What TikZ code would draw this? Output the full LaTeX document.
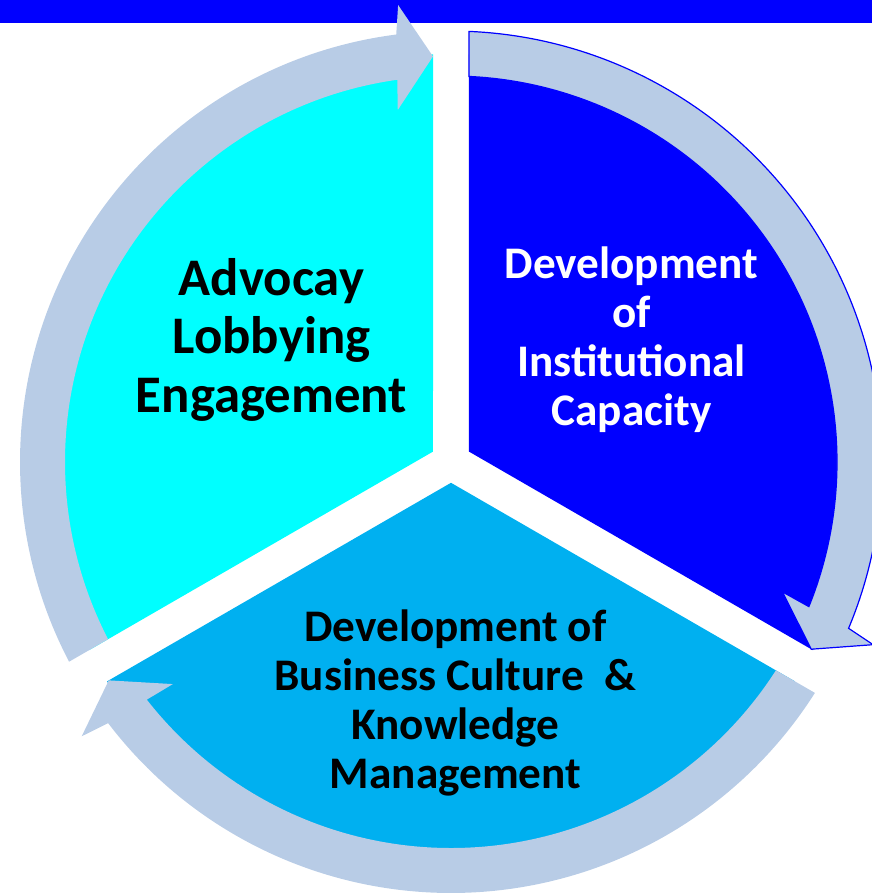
\documentclass[tikz,border=0pt]{standalone}
\usepackage{fontspec}
\setmainfont{Carlito}

\definecolor{ringblue}{RGB}{184,204,230}
\definecolor{sectorcyan}{RGB}{0,255,255}
\definecolor{sectorblue}{RGB}{0,0,255}
\definecolor{sectorsky}{RGB}{0,176,240}

\newcommand{\RingIn}{386}
\newcommand{\RingOut}{431}
\newcommand{\SecR}{408}
\newcommand{\TipR}{406}
\newcommand{\HeadIn}{356}
\newcommand{\HeadOut}{460}
\newcommand{\Gap}{18}
\newcommand{\drawSector}[2]{
    \fill[#1] ({#2+60}:{\Gap/sin(60)}) -- ({#2+asin(\Gap/\SecR)}:\SecR)
        arc[start angle={#2+asin(\Gap/\SecR)}, end angle={#2+120-asin(\Gap/\SecR)}, radius=\SecR] -- cycle;
}
\newcommand{\drawArrow}[2]{
    \path[#1] ({#2+120-asin(\Gap/\RingOut)}:\RingOut)
        arc[start angle={#2+120-asin(\Gap/\RingOut)}, end angle={#2+7.3}, radius=\RingOut]
        -- ({#2+6.6}:\HeadOut) -- ({#2+asin(\Gap/\TipR)}:\TipR) -- ({#2+8.6}:\HeadIn)
        -- ({#2+8.0}:\RingIn)
        arc[start angle={#2+8.0}, end angle={#2+120-asin(\Gap/\RingIn)}, radius=\RingIn] -- cycle;
}

\tikzset{
    ringarrow/.style={fill=ringblue},
    ringarrow outlined/.style={ringarrow, draw=sectorblue, line width=1.2pt},
    sectortext/.style={align=center, inner sep=0pt, anchor=base}
}

\begin{document}
\begin{tikzpicture}[x=1pt, y=1pt]
    \useasboundingbox (-451,-433) rectangle (421,462);
    \clip (-451,-433) rectangle (421,462);
    \coordinate (Centre) at (0,0);

    \fill[sectorblue] (-451,439.3) rectangle (421,462);

    \drawSector{sectorcyan}{90}
    \drawSector{sectorblue}{-30}
    \drawSector{sectorsky}{-150}

    \drawArrow{ringarrow}{90}
    \drawArrow{ringarrow outlined}{-30}
    \drawArrow{ringarrow}{-150}

    \node[sectortext, font=\bfseries\fontsize{52.8}{58.5}\selectfont] (advocacy) at (-179.5,50)
        {Advocay\\Lobbying\\Engagement};
    \node[sectortext, text=white, font=\bfseries\fontsize{45.2}{49}\selectfont] (institutional) at (180.5,37)
        {Development\\of\\Institutional\\Capacity};
    \node[sectortext, font=\bfseries\fontsize{45.2}{49}\selectfont] (business) at (4.5,-326)
        {Development of\\Business Culture~ \&\\Knowledge\\Management};
\end{tikzpicture}
\end{document}
